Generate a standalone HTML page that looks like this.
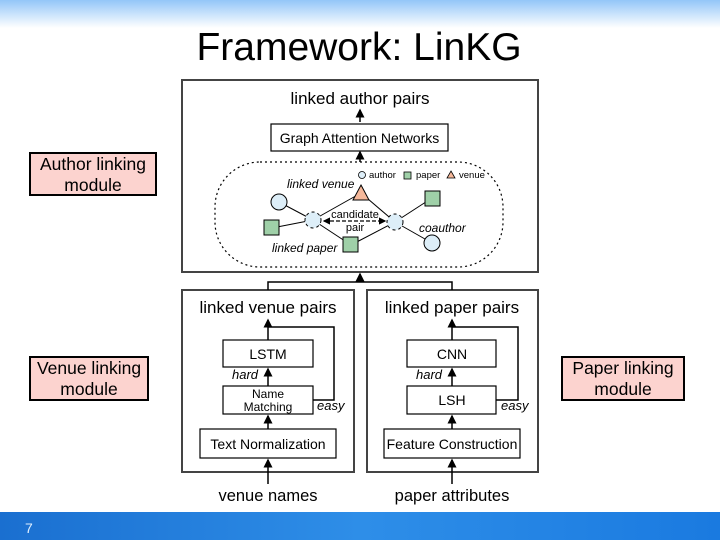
<!DOCTYPE html>
<html><head><meta charset="utf-8"><style>
body{margin:0;width:720px;height:540px;overflow:hidden;background:#fff;font-family:"Liberation Sans",sans-serif}
</style></head><body>
<svg width="720" height="540" viewBox="0 0 720 540" xmlns="http://www.w3.org/2000/svg" font-family="Liberation Sans, sans-serif">
<defs>
<linearGradient id="tg" x1="0" y1="0" x2="0" y2="1"><stop offset="0" stop-color="#93c6f8"/><stop offset="1" stop-color="#ffffff"/></linearGradient>
<linearGradient id="bg" x1="0" y1="0" x2="1" y2="0"><stop offset="0" stop-color="#1a6fd0"/><stop offset="0.5" stop-color="#2e8ee8"/><stop offset="1" stop-color="#1a7ae0"/></linearGradient>
<marker id="a" markerWidth="6" markerHeight="6" refX="5" refY="3" orient="auto"><path d="M0,0 L6,3 L0,6 z" fill="#000"/></marker>
<marker id="a2" markerWidth="6" markerHeight="6" refX="1" refY="3" orient="auto"><path d="M6,0 L0,3 L6,6 z" fill="#000"/></marker>
</defs>
<rect x="0" y="0" width="720" height="28" fill="url(#tg)"/>
<rect x="0" y="512" width="720" height="28" fill="url(#bg)"/>
<text x="25" y="533" font-size="14" fill="#dfefff">7</text>
<text x="359" y="60" font-size="39" text-anchor="middle">Framework: LinKG</text>

<g stroke="#444" stroke-width="2" fill="none">
<rect x="182" y="80" width="356" height="192"/>
<rect x="182" y="290" width="172" height="182"/>
<rect x="367" y="290" width="171" height="182"/>
</g>
<g stroke="#000" stroke-width="1.5" fill="none">
<path d="M268,290 V282 H452 V290"/>
<path d="M360,282 V274" marker-end="url(#a)"/>
<path d="M360,122 V110" marker-end="url(#a)"/>
<path d="M360,162 V152" marker-end="url(#a)"/>
</g>
<text x="360" y="104" font-size="17" text-anchor="middle">linked author pairs</text>
<rect x="271" y="124" width="177" height="27" fill="#fff" stroke="#000" stroke-width="1.2"/>
<text x="359.5" y="143" font-size="14" text-anchor="middle">Graph Attention Networks</text>
<rect x="215" y="162" width="288" height="105" rx="45" fill="none" stroke="#000" stroke-width="1.2" stroke-dasharray="2,3"/>
<g stroke="#000" stroke-width="1">
<line x1="279" y1="202" x2="313" y2="220"/><line x1="272" y1="228" x2="313" y2="220"/>
<line x1="313" y1="220" x2="361" y2="193"/><line x1="313" y1="220" x2="351" y2="245"/>
<line x1="395" y1="222" x2="361" y2="193"/><line x1="395" y1="222" x2="351" y2="245"/>
<line x1="395" y1="222" x2="432" y2="198"/><line x1="395" y1="222" x2="432" y2="243"/>
</g>
<line x1="324" y1="221" x2="385" y2="221" stroke="#000" stroke-width="1.2" stroke-dasharray="4,2" marker-end="url(#a)" marker-start="url(#a2)"/>
<g fill="#ddeef8" stroke="#000" stroke-width="1">
<circle cx="279" cy="202" r="8"/><circle cx="432" cy="243" r="8"/>
<circle cx="313" cy="220" r="8" stroke-dasharray="3,3"/><circle cx="395" cy="222" r="8" stroke-dasharray="3,3"/>
</g>
<g fill="#9fd0a8" stroke="#000" stroke-width="1">
<rect x="425" y="191" width="15" height="15"/><rect x="264" y="220" width="15" height="15"/><rect x="343" y="237" width="15" height="15"/>
</g>
<path d="M361,185 L369,200 L353,200 z" fill="#f5b89a" stroke="#000"/>
<circle cx="362" cy="175" r="3.5" fill="#ddeef8" stroke="#000" stroke-width="0.8"/>
<text x="369" y="178" font-size="9.5">author</text>
<rect x="404" y="172" width="7" height="7" fill="#9fd0a8" stroke="#000" stroke-width="0.8"/>
<text x="416" y="178" font-size="9.5">paper</text>
<path d="M451,171 L455,178 L447,178 z" fill="#f5b89a" stroke="#000" stroke-width="0.8"/>
<text x="459" y="178" font-size="9.5">venue</text>
<g font-size="12" font-style="italic">
<text x="287" y="188">linked venue</text>
<text x="419" y="232">coauthor</text>
<text x="272" y="252">linked paper</text>
</g>
<text x="355" y="218" font-size="11" text-anchor="middle">candidate</text>
<text x="355" y="231" font-size="11" text-anchor="middle">pair</text>

<text x="268" y="313" font-size="17" text-anchor="middle">linked venue pairs</text>
<text x="452" y="313" font-size="17" text-anchor="middle">linked paper pairs</text>
<g fill="#fff" stroke="#000" stroke-width="1.2">
<rect x="223" y="340" width="90" height="27"/><rect x="223" y="386" width="90" height="28"/><rect x="200" y="429" width="136" height="29"/>
<rect x="407" y="340" width="89" height="27"/><rect x="407" y="386" width="89" height="28"/><rect x="384" y="429" width="136" height="29"/>
</g>
<g stroke="#000" stroke-width="1.5" fill="none">
<path d="M313,400 H334 V327 H268"/><path d="M268,340 V320" marker-end="url(#a)"/>
<path d="M268,386 V369" marker-end="url(#a)"/><path d="M268,429 V416" marker-end="url(#a)"/><path d="M268,484 V460" marker-end="url(#a)"/>
<path d="M496,400 H518 V327 H452"/><path d="M452,340 V320" marker-end="url(#a)"/>
<path d="M452,386 V369" marker-end="url(#a)"/><path d="M452,429 V416" marker-end="url(#a)"/><path d="M452,484 V460" marker-end="url(#a)"/>
</g>
<text x="268" y="359" font-size="14" text-anchor="middle">LSTM</text>
<text x="268" y="398" font-size="12" text-anchor="middle">Name</text>
<text x="268" y="411" font-size="12" text-anchor="middle">Matching</text>
<text x="268" y="449" font-size="14" text-anchor="middle">Text Normalization</text>
<text x="452" y="359" font-size="14" text-anchor="middle">CNN</text>
<text x="452" y="405" font-size="14" text-anchor="middle">LSH</text>
<text x="452" y="449" font-size="14" text-anchor="middle">Feature Construction</text>
<g font-size="13" font-style="italic">
<text x="232" y="379">hard</text><text x="317" y="410">easy</text>
<text x="416" y="379">hard</text><text x="501" y="410">easy</text>
</g>
<text x="268" y="501" font-size="16.5" text-anchor="middle">venue names</text>
<text x="452" y="501" font-size="16.5" text-anchor="middle">paper attributes</text>

<g fill="#fcd3cf" stroke="#000" stroke-width="2">
<rect x="30" y="153" width="126" height="42"/>
<rect x="30" y="357" width="118" height="43"/>
<rect x="562" y="357" width="122" height="43"/>
</g>
<g font-size="17.5" text-anchor="middle">
<text x="93" y="170">Author linking</text><text x="93" y="191">module</text>
<text x="89" y="374">Venue linking</text><text x="89" y="395">module</text>
<text x="623" y="374">Paper linking</text><text x="623" y="395">module</text>
</g>
</svg>
</body></html>
